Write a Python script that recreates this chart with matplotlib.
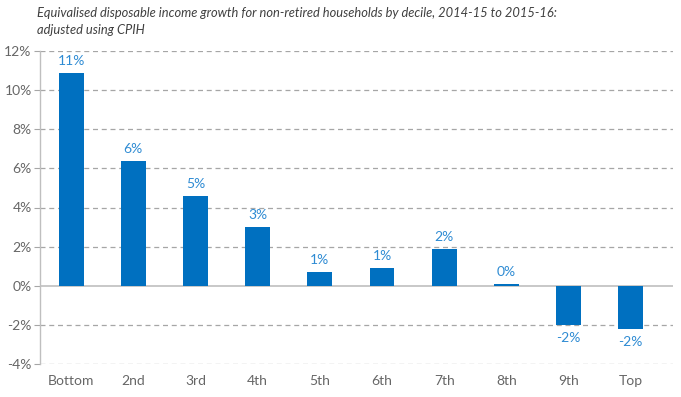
import matplotlib
matplotlib.use("Agg")
import matplotlib.pyplot as plt
import numpy as np

categories = ["Bottom", "2nd", "3rd", "4th", "5th", "6th", "7th", "8th", "9th", "Top"]
values = [10.9, 6.4, 4.6, 3.0, 0.7, 0.9, 1.9, 0.1, -2.0, -2.2]
labels = ["11%", "6%", "5%", "3%", "1%", "1%", "2%", "0%", "-2%", "-2%"]
yticks = [-4, -2, 0, 2, 4, 6, 8, 10, 12]
title = "Equivalised disposable income growth for non-retired households by decile, 2014-15 to 2015-16:\nadjusted using CPIH"

plt.rcParams['font.family'] = ['Lato', 'DejaVu Sans']

fig = plt.figure(figsize=(6.81, 3.97), dpi=100)
ax = fig.add_axes([40/681, 1-364/397, (673-40)/681, (364-51)/397])

x = np.arange(len(categories))
bar_color = "#0070C0"
ax.bar(x, values, width=0.4, color=bar_color, zorder=3)

for xi, v, lab in zip(x, values, labels):
    if v >= 0:
        ax.text(xi, v + 0.3, lab, ha="center", va="bottom", color="#2E8BD3",
                fontsize=10)
    else:
        ax.text(xi, v - 0.35, lab, ha="center", va="top", color="#2E8BD3",
                fontsize=10)

ax.set_ylim(-4, 12)
ax.set_xlim(-0.5, 9.68)
ax.set_yticks(yticks)
ax.set_yticklabels([f"{t}%" for t in yticks])
ax.set_xticks(x)
ax.set_xticklabels(categories)

for t in yticks:
    if t == 0:
        ax.axhline(t, color="#BFBFBF", lw=1.2, zorder=2)
    else:
        ax.axhline(t, color="#A6A6A6", lw=0.9, ls=(0, (4, 3)), zorder=1)

for s in ["top", "right", "bottom"]:
    ax.spines[s].set_visible(False)
ax.spines["left"].set_color("#BFBFBF")
ax.spines["left"].set_linewidth(1.0)

ax.tick_params(axis="y", colors="#A6A6A6", labelcolor="#666666", labelsize=10,
               length=4, width=0.8, pad=2)
ax.tick_params(axis="x", length=0, labelcolor="#666666", labelsize=10, pad=8)

fig.text(37/681, 1-7/397, title, ha="left", va="top", fontsize=9.3,
         style="italic", color="#404040", linespacing=1.45)

fig.savefig("out.png", dpi=100)
